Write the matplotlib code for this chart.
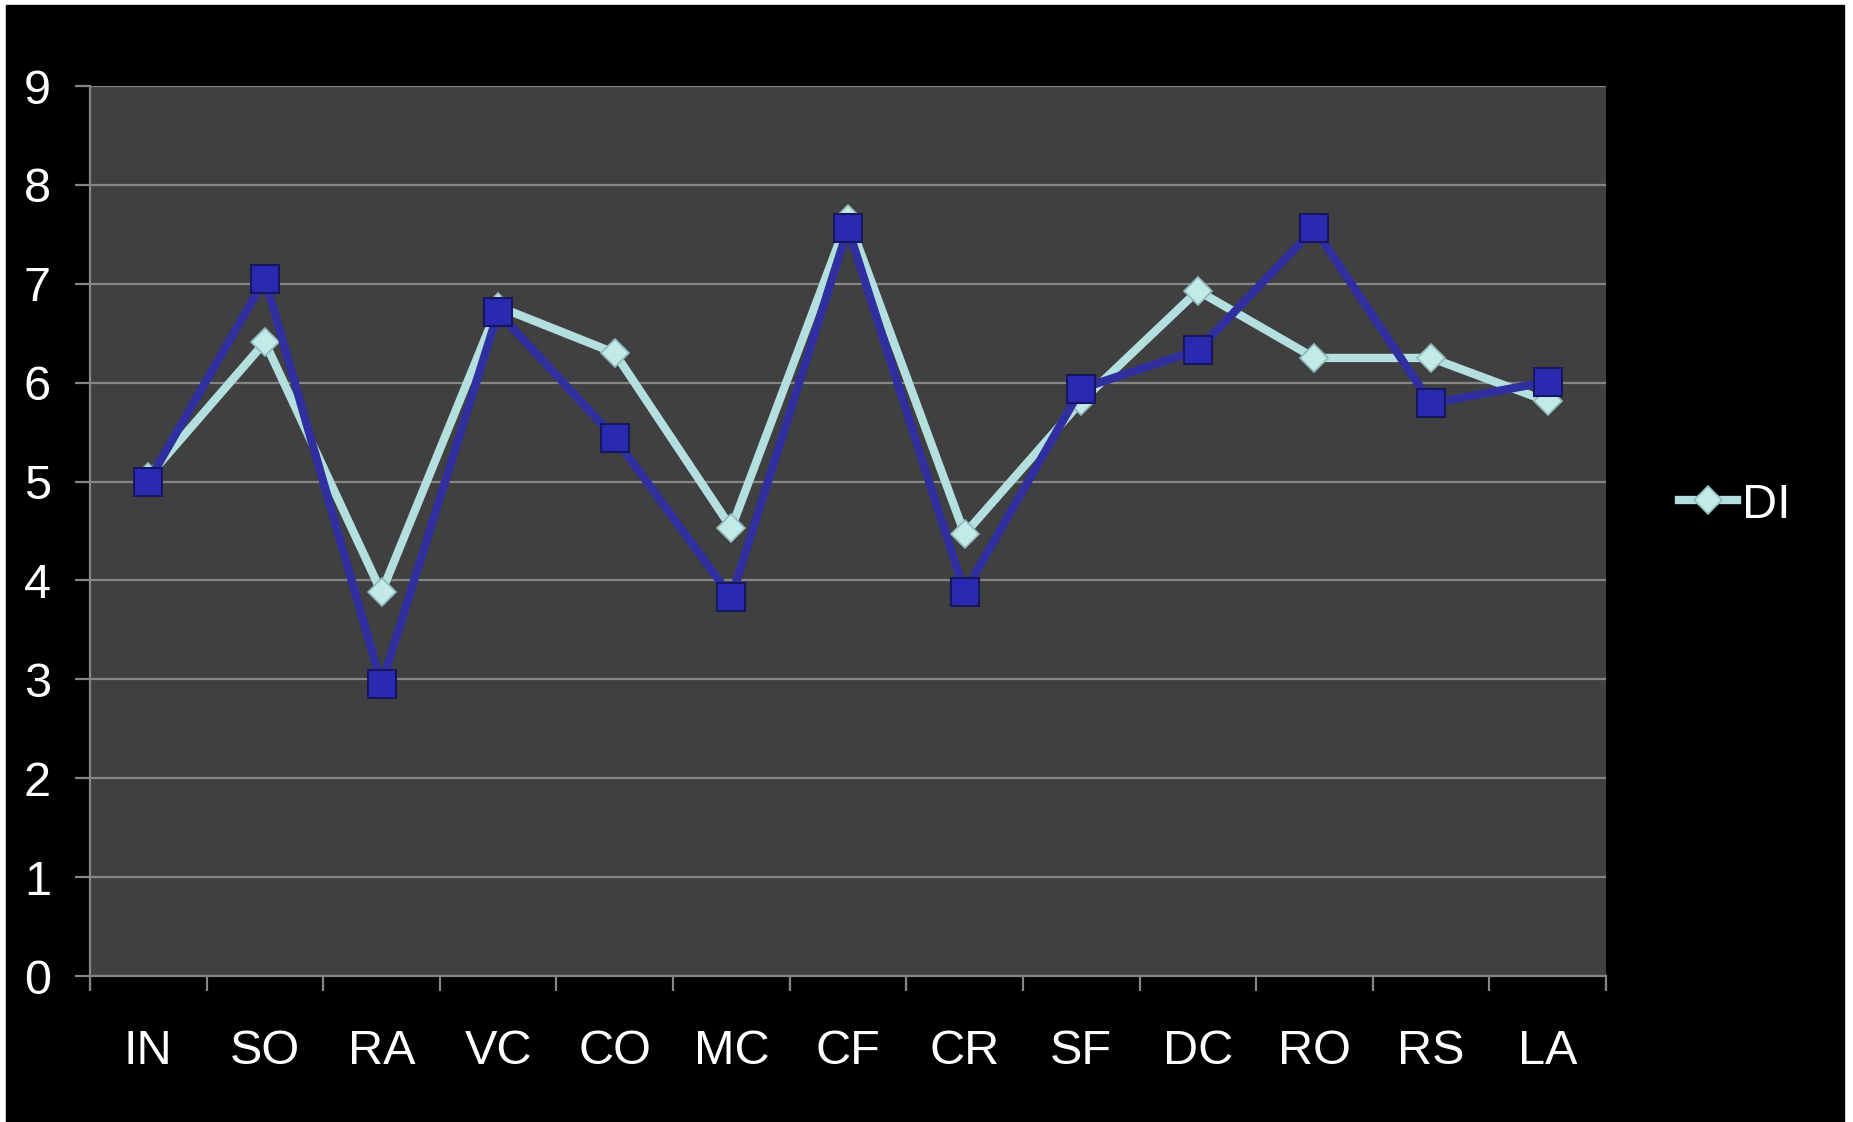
import numpy as np
import matplotlib
matplotlib.use("Agg")
import matplotlib.pyplot as plt
from matplotlib.patches import Rectangle

plt.rcParams['font.family'] = ['Liberation Sans', 'DejaVu Sans']

# categories and series
categories = ['IN', 'SO', 'RA', 'VC', 'CO', 'MC', 'CF', 'CR', 'SF', 'DC', 'RO', 'RS', 'LA']
di_values = [5.05, 6.41, 3.88, 6.77, 6.30, 4.53, 7.66, 4.47, 5.81, 6.93, 6.25, 6.25, 5.81]
second_values = [5.00, 7.05, 2.95, 6.71, 5.44, 3.83, 7.56, 3.88, 5.94, 6.33, 7.56, 5.79, 6.01]
y_ticks = [0, 1, 2, 3, 4, 5, 6, 7, 8, 9]

W, H = 1853, 1122
fig = plt.figure(figsize=(W / 100, H / 100), dpi=100, facecolor='white')
# black slide area, thin white edge on left/top/right
fig.patches.append(Rectangle((6 / W, 0), (1844 - 6) / W, 1117 / H,
                             transform=fig.transFigure, color='black', zorder=-10))

ax = fig.add_axes([90 / W, 146 / H, (1606 - 90) / W, (976 - 86) / H])
ax.set_facecolor('#404040')

x = np.arange(len(categories))
grid_col = '#858585'

# light series (legend "DI") drawn first, dark one on top
l_di, = ax.plot(x, di_values, color='#B3DFDF', lw=6, marker='D', ms=14.5,
                mfc='#C4E9E9', mec='#8FBABA', mew=1.2, zorder=3, solid_joinstyle='miter')
ax.plot(x, second_values, color='#2F2F9F', lw=6, marker='s', ms=20,
        mfc='#2A2AB0', mec='#171760', mew=1.5, zorder=4, solid_joinstyle='miter')

ax.set_xlim(-0.5, len(categories) - 0.5)
ax.set_ylim(0, 9)
ax.set_yticks(y_ticks)
ax.yaxis.grid(True, color=grid_col, lw=1.6)
ax.set_axisbelow(True)

# ticks between categories, labels at centres
ax.set_xticks(np.arange(-0.5, len(categories), 1.0))
ax.set_xticklabels([])
ax.set_xticks(x, minor=True)
ax.set_xticklabels(categories, minor=True)
ax.tick_params(axis='x', which='major', length=11, width=1.6, color=grid_col, direction='out')
ax.tick_params(axis='x', which='minor', length=0, pad=38, labelsize=35, labelcolor='white')
ax.tick_params(axis='y', length=11, width=1.6, color=grid_col, pad=17, labelsize=35,
               labelcolor='white')

for s in ['top', 'right']:
    ax.spines[s].set_visible(False)
for s in ['left', 'bottom']:
    ax.spines[s].set_color(grid_col)
    ax.spines[s].set_linewidth(1.6)

leg = fig.legend([l_di], ['DI'], loc='center left', bbox_to_anchor=(1679 / W, 1 - 505 / H),
                 frameon=False, fontsize=35, handlelength=1.2, handletextpad=0.1,
                 borderpad=0, borderaxespad=0)
for t in leg.get_texts():
    t.set_color('white')

fig.savefig('out.png', dpi=100, facecolor=fig.get_facecolor())
